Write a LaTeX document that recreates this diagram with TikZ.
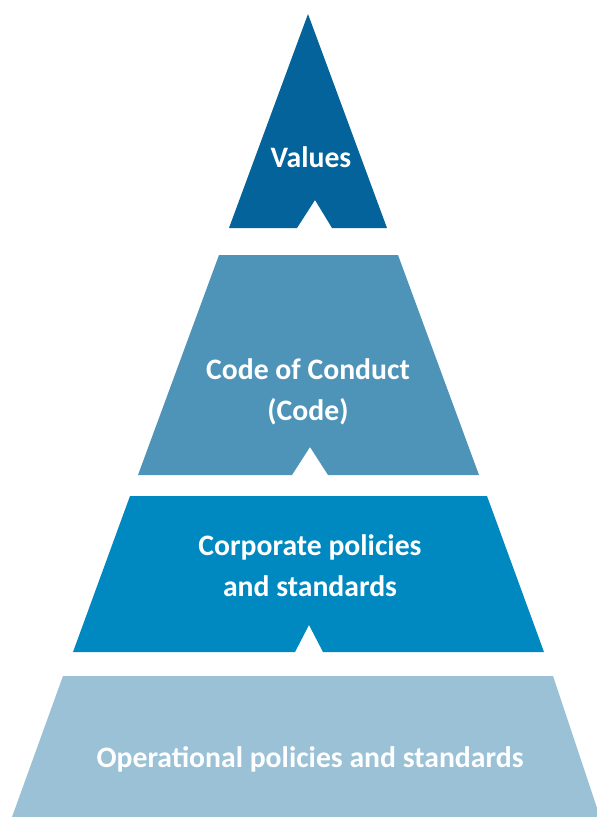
\documentclass[tikz,border=0pt]{standalone}
\usepackage{fontspec}
\setmainfont{Carlito}
\definecolor{valuesblue}{HTML}{03639A}
\definecolor{codeblue}{HTML}{4E94B9}
\definecolor{corpblue}{HTML}{0089C0}
\definecolor{operblue}{HTML}{9AC1D6}
\tikzset{tier/.style={text=white,font=\fontsize{29.7}{41}\selectfont\bfseries,align=center}}
\begin{document}
\begin{tikzpicture}[x=1pt,y=-1pt]
\useasboundingbox (0,0) rectangle (597,817);

\fill [valuesblue] (308,14) -- (387,228) -- (332,228) -- (315,200) -- (297,228) -- (229,228) -- cycle;
\fill [codeblue] (219,255) -- (398,255) -- (479,475) -- (328,475) -- (310,447) -- (292,475) -- (138,475) -- cycle;
\fill [corpblue] (130,496) -- (487,496) -- (544,652) -- (323,652) -- (309,625) -- (295,652) -- (73,652) -- cycle;
\fill [operblue] (63,676) -- (553,676) -- (600,817) -- (12,817) -- cycle;

\node [tier,anchor=base] (values) at (311,167) {Values};
\node [tier] (code) at (308,392) {Code of Conduct\\(Code)};
\node [tier] (corp) at (310,566) {Corporate policies\\and standards};
\node [tier,anchor=base] (oper) at (310,767) {Operational policies and standards};
\end{tikzpicture}
\end{document}
